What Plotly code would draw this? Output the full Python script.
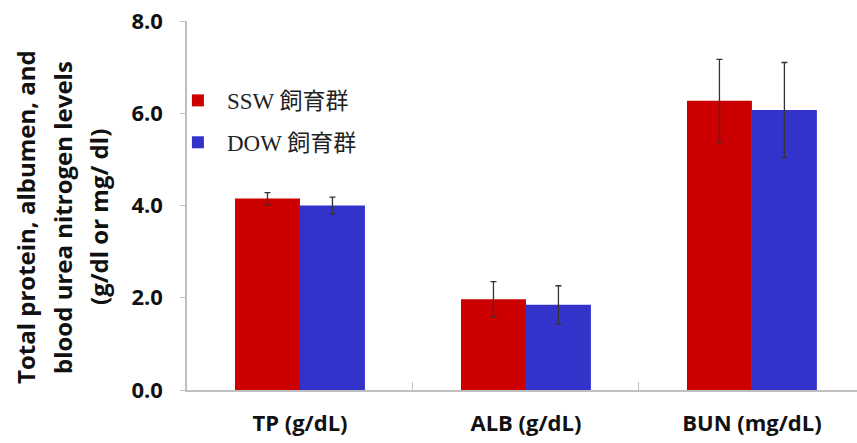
import plotly.graph_objects as go

categories = ["TP (g/dL)", "ALB (g/dL)", "BUN (mg/dL)"]
ssw_values = [4.15, 1.97, 6.27]
ssw_errors = [0.13, 0.38, 0.90]
dow_values = [4.00, 1.85, 6.07]
dow_errors = [0.18, 0.41, 1.03]
series_names = ["SSW 飼育群", "DOW 飼育群"]
y_ticks = [0, 2, 4, 6, 8]
y_tick_labels = ["0.0", "2.0", "4.0", "6.0", "8.0"]
y_title_lines = ["Total protein, albumen, and", "blood urea nitrogen levels", "(g/dl or mg/ dl)"]

W, H = 857, 443
L, R, T, B = 187, 0, 21, 53
PW = W - L - R
PH = H - T - B

fig = go.Figure()
fig.add_trace(go.Bar(
    x=categories, y=ssw_values, name=series_names[0], legendgroup="a",
    marker=dict(color="#cc0000", line=dict(width=0)),
    error_y=dict(type="data", array=ssw_errors, color="#333333", thickness=1.3, width=3),
))
fig.add_trace(go.Bar(
    x=categories, y=dow_values, name=series_names[1], legendgroup="b",
    marker=dict(color="#3333cc", line=dict(width=0)),
    error_y=dict(type="data", array=dow_errors, color="#333333", thickness=1.3, width=3),
))

title_x_px = [25, 62, 98]
for line, px in zip(y_title_lines, title_x_px):
    fig.add_annotation(
        text=line, textangle=-90, showarrow=False,
        xref="paper", yref="paper",
        x=(px - L) / PW, y=(390 - 217) / PH,
        xanchor="center", yanchor="middle",
        font=dict(family="Open Sans", size=24, color="#111111", weight="bold"),
    )

fig.update_layout(
    width=W, height=H,
    margin=dict(l=L, r=R, t=T, b=B, autoexpand=False),
    paper_bgcolor="white", plot_bgcolor="white",
    barmode="group", bargap=0.425, bargroupgap=0,
    showlegend=True,
    legend=dict(
        x=-0.027, y=0.843, xanchor="left", yanchor="top",
        font=dict(family="Liberation Serif, Noto Sans CJK JP", size=23, color="#222222"),
        bgcolor="rgba(0,0,0,0)", tracegroupgap=9, traceorder="grouped",
        itemwidth=48,
    ),
    font=dict(family="Open Sans, sans-serif", color="#111111"),
)
fig.update_xaxes(
    range=[-0.5, 2.465], automargin=False,
    showline=True, linecolor="#bfbfbf", linewidth=1.5,
    ticks="inside", tickson="boundaries", ticklen=8, tickcolor="#bfbfbf",
    tickfont=dict(family="Open Sans", size=22, color="#111111", weight="bold"),
    ticklabelstandoff=13, ticklabeloverflow="allow",
    showgrid=False, zeroline=False,
)
fig.update_yaxes(
    range=[0, 8], tickvals=y_ticks, ticktext=y_tick_labels, automargin=False,
    showline=True, linecolor="#bfbfbf", linewidth=1.5,
    ticks="outside", ticklen=5, tickcolor="#bfbfbf",
    tickfont=dict(family="Open Sans", size=22, color="#111111", weight="bold"),
    ticklabelstandoff=13, ticklabeloverflow="allow",
    showgrid=False, zeroline=False,
)

fig.write_html(
    "out.html",
    config={"displayModeBar": False},
    post_script="document.body.style.margin='0';",
)
